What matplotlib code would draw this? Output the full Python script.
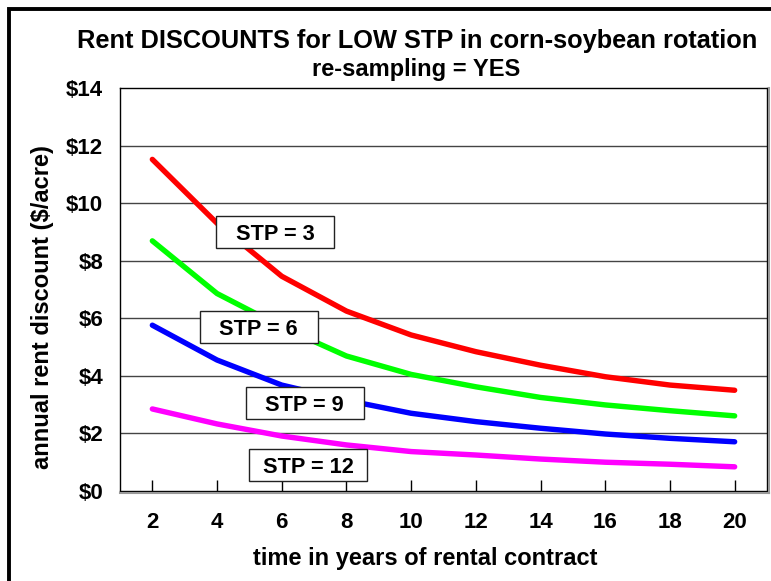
import matplotlib
matplotlib.use("Agg")
import matplotlib.pyplot as plt
from matplotlib.lines import Line2D
from matplotlib.patches import Rectangle

plt.rcParams["font.family"] = ["Liberation Sans", "DejaVu Sans"]
plt.rcParams["font.weight"] = "bold"

years = [2, 4, 6, 8, 10, 12, 14, 16, 18, 20]
stp_3 = [11.52, 9.30, 7.46, 6.25, 5.42, 4.84, 4.37, 3.97, 3.68, 3.50]
stp_6 = [8.69, 6.86, 5.70, 4.69, 4.05, 3.62, 3.25, 2.99, 2.79, 2.61]
stp_9 = [5.76, 4.55, 3.68, 3.15, 2.70, 2.41, 2.18, 1.98, 1.83, 1.71]
stp_12 = [2.85, 2.33, 1.91, 1.60, 1.37, 1.25, 1.11, 1.00, 0.93, 0.84]

series = [stp_3, stp_6, stp_9, stp_12]
colors = ["#ff0000", "#00ff00", "#0000ff", "#ff00ff"]
labels = ["STP = 3", "STP = 6", "STP = 9", "STP = 12"]
label_pos = [(5.80, 8.99), (5.29, 5.70), (6.71, 3.06), (6.82, 0.90)]

y_ticks = [0, 2, 4, 6, 8, 10, 12, 14]
y_ticklabels = ["$%d" % v for v in y_ticks]

W, H = 771, 581
fig = plt.figure(figsize=(W / 100, H / 100), dpi=100)

# outer frame of the chart area (cut off at right and bottom)
fig.patches.append(Rectangle((8.5 / W, -0.1), 1.2, (H - 8.5) / H + 0.1,
                             transform=fig.transFigure, fill=False,
                             edgecolor="black", linewidth=2.8))

ax = fig.add_axes([120 / W, (H - 491) / H, 647 / W, 403 / H])

for vals, c in zip(series, colors):
    ax.plot(years, vals, color=c, linewidth=3.9, solid_capstyle="round",
            solid_joinstyle="round", zorder=3)

# label boxes are a fixed size (about 118 x 32 px)
box_w = 118 / 647 * 20
box_h = 32 / 403 * 14
for text, (x, y) in zip(labels, label_pos):
    ax.add_patch(Rectangle((x - box_w / 2, y - box_h / 2), box_w, box_h,
                           facecolor="white", edgecolor="#222222",
                           linewidth=1.0, zorder=4))
    ax.text(x, y, text, ha="center", va="center_baseline", fontsize=15.7,
            fontweight="bold", zorder=5)

ax.set_xlim(1, 21)
ax.set_ylim(0, 14)
ax.set_xticks(years)
ax.set_xticklabels([str(y) for y in years])
ax.set_yticks(y_ticks)
ax.set_yticklabels(y_ticklabels)
ax.tick_params(axis="x", direction="in", length=8, width=1, pad=15,
               labelsize=16, colors="black")
ax.tick_params(axis="y", length=0, pad=12, labelsize=16)
for lab in ax.get_xticklabels() + ax.get_yticklabels():
    lab.set_fontweight("bold")

for v in y_ticks[1:-1]:
    ax.axhline(v, color="#444444", linewidth=1.0, zorder=1)

for s in ax.spines.values():
    s.set_color("black")
    s.set_linewidth(1.0)

# light shadow along right and bottom edges of the plot box
fig.lines.append(Line2D([120 / W, 769 / W], [(H - 493) / H] * 2,
                        transform=fig.transFigure, color="#999999", lw=1.5))
fig.lines.append(Line2D([769 / W] * 2, [(H - 493) / H, (H - 88) / H],
                        transform=fig.transFigure, color="#999999", lw=1.5))

fig.text(417 / W, 1 - 41 / H,
         "Rent DISCOUNTS for LOW STP in corn-soybean rotation",
         ha="center", va="center", fontsize=18.3, fontweight="bold")
fig.text(416 / W, 1 - 70 / H, "re-sampling = YES", ha="center",
         va="center", fontsize=17, fontweight="bold")
fig.text(425 / W, 1 - 559 / H, "time in years of rental contract",
         ha="center", va="center", fontsize=17, fontweight="bold")
fig.text(43 / W, 1 - 307 / H, "annual rent discount ($/acre)",
         ha="center", va="center", rotation=90, fontsize=17,
         fontweight="bold")

fig.savefig("out.png", dpi=100)
